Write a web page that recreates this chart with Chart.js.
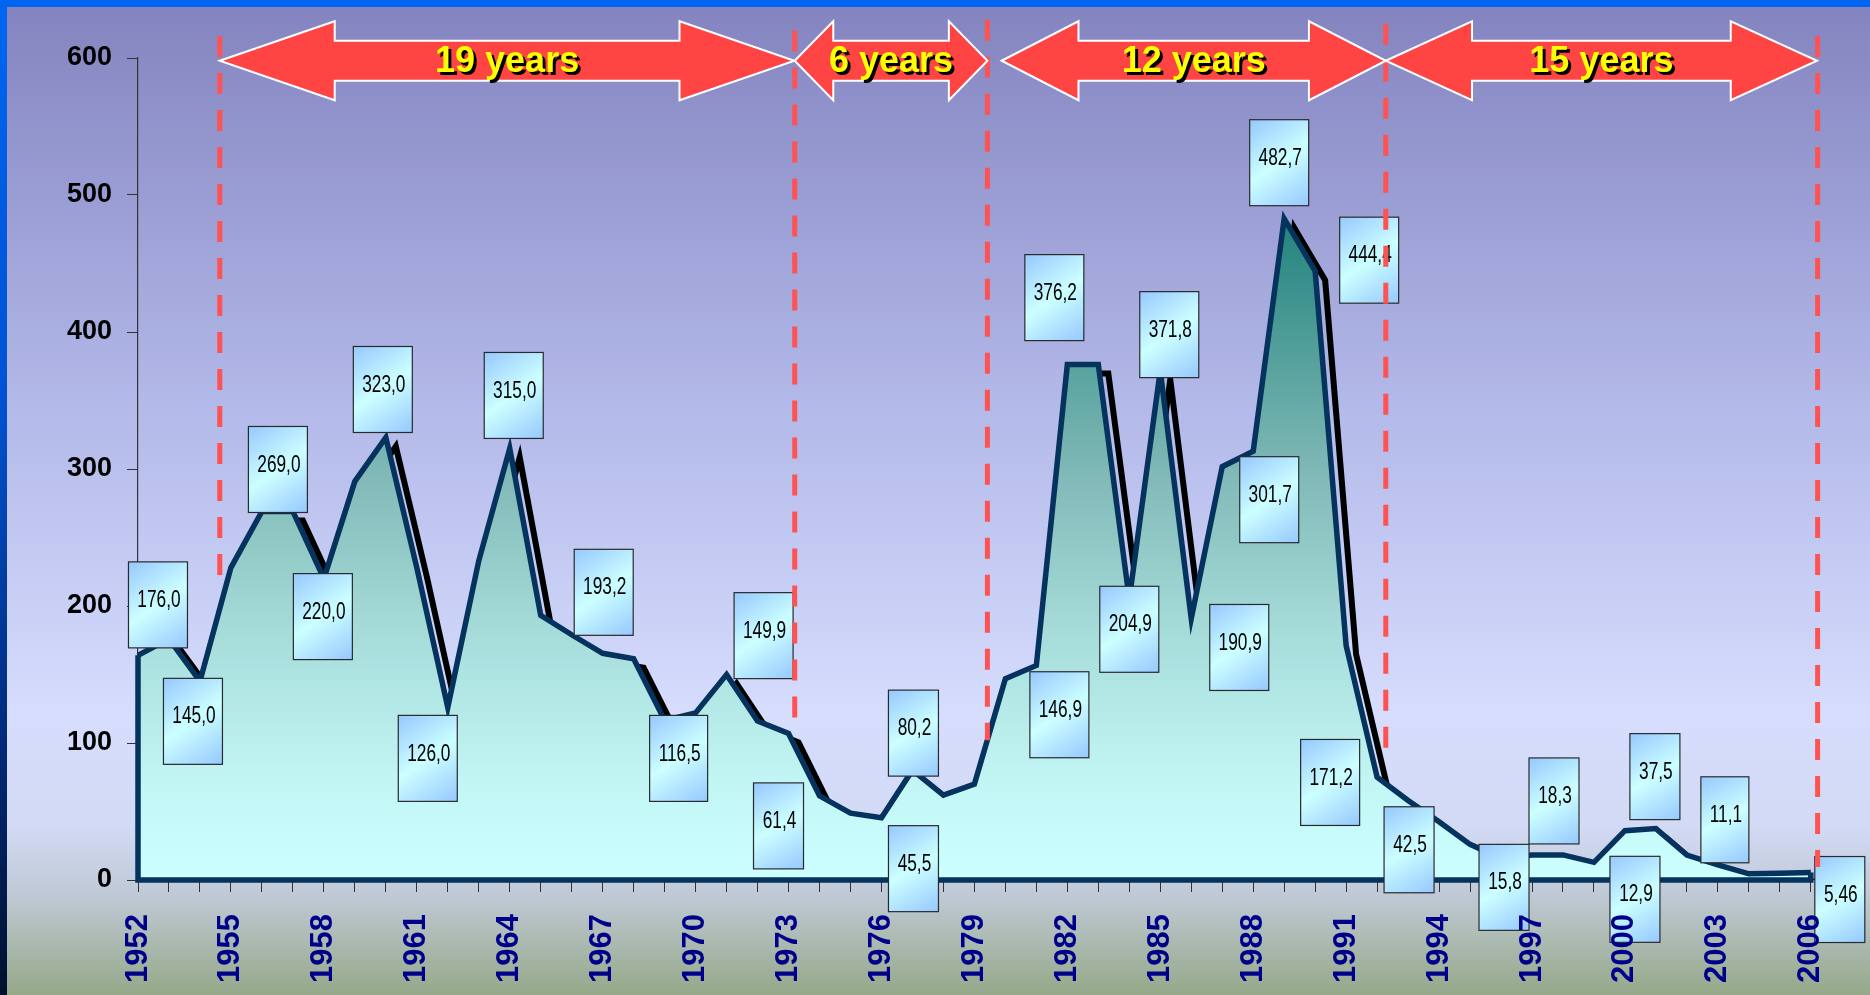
<!DOCTYPE html>
<html>
<head>
<meta charset="utf-8">
<title>1952-2006</title>
<script src="https://cdn.jsdelivr.net/npm/chart.js@4.4.1/dist/chart.umd.min.js"></script>
<style>
  html, body { margin: 0; padding: 0; overflow: hidden; background: #8686c2; }
  #wrap { position: relative; width: 1870px; height: 995px; }
</style>
</head>
<body>
<div id="wrap"><canvas id="cycleChart"></canvas></div>
<script>
const years = [
  "1952", "1953", "1954", "1955", "1956", "1957", "1958", "1959", "1960", "1961",
  "1962", "1963", "1964", "1965", "1966", "1967", "1968", "1969", "1970", "1971",
  "1972", "1973", "1974", "1975", "1976", "1977", "1978", "1979", "1980", "1981",
  "1982", "1983", "1984", "1985", "1986", "1987", "1988", "1989", "1990", "1991",
  "1992", "1993", "1994", "1995", "1996", "1997", "1998", "1999", "2000", "2001",
  "2002", "2003", "2004", "2005", "2006"
];
const values = [
  164, 176.0, 145.0, 228, 269.0, 269, 220.0, 291, 323.0, 228,
  126.0, 233, 315.0, 193.2, 179, 165.5, 161.5, 116.5, 122, 149.9,
  116, 107, 61.4, 48.8, 45.5, 80.2, 62, 70, 146.9, 156.6,
  376.2, 376.2, 204.9, 371.8, 190.9, 301.7, 313, 482.7, 444.4, 171.2,
  75, 58, 42.5, 26, 15.8, 18.3, 18.3, 12.9, 36, 37.5,
  18.2, 11.1, 4.5, 5, 5.46
];

// years that carry a value box, and how far each box sits from its point (px)
const labelYears = [
  "1953", "1954", "1956", "1958", "1960", "1962", "1964", "1965", "1969", "1971",
  "1974", "1976", "1977", "1980", "1982", "1984", "1985", "1986", "1987", "1989",
  "1990", "1991", "1994", "1996", "1997", "1999", "2001", "2003", "2006"
];
const labelNudge = [
  [-11, -34], [-7, 40], [16, -42], [-1, 38], [-3, -48], [-20, 51], [4, -53], [63, -23], [14, 38], [37, -39],
  [-41, 30], [32, 51], [1, -37], [54, 36], [-13, -67], [0, 30], [9, -36], [48, 29], [47, 33], [-5, -56],
  [54, -11], [-16, 137], [-30, 28], [3, 29], [22, -54], [41, 37], [-1, -52], [7, -45], [29, 27]
];

// dashed cycle boundaries (year position, top and bottom value)
const dividerAt = [1954.64, 1973.2, 1979.42, 1992.28, 2006.22];
const dividerTop = [616, 620, 628, 625, 616];
const dividerBottom = [219, 113, 102, 90, 9.5];

// double arrows between the boundaries
const spanFrom = [1954.64, 1973.2, 1979.88, 1992.28];
const spanTo = [1973.19, 1979.42, 1992.28, 2006.2];
const spanText = ["19 years", "6 years", "12 years", "15 years"];

const FONT = '"Liberation Sans", Arial, Helvetica, sans-serif';
Chart.defaults.font.family = FONT;

function yearPos(chart, year) {
  return chart.scales.x.getPixelForValue(year - 1952);
}

function fmt(v) {
  const tenth = Math.abs(v * 10 - Math.round(v * 10)) < 1e-6;
  return (tenth ? v.toFixed(1) : v.toFixed(2)).replace(".", ",");
}

const backdrop = {
  id: "backdrop",
  beforeDraw(chart) {
    const { ctx, width, height } = chart;
    ctx.save();
    const g = ctx.createLinearGradient(0, 0, 0, height);
    g.addColorStop(0, "#8383bf");
    g.addColorStop(0.4, "#b2b8e8");
    g.addColorStop(0.72, "#d6ddfd");
    g.addColorStop(0.83, "#d3daf5");
    g.addColorStop(0.9, "#bfc9d5");
    g.addColorStop(1, "#95a888");
    ctx.fillStyle = g;
    ctx.fillRect(0, 0, width, height);

    const side = ctx.createLinearGradient(0, 0, 0, height);
    side.addColorStop(0, "#0066f0");
    side.addColorStop(0.4, "#0052d2");
    side.addColorStop(0.75, "#002a78");
    side.addColorStop(1, "#00102e");
    ctx.fillStyle = side;
    ctx.fillRect(0, 0, 7, height);
    ctx.fillStyle = "#0066f0";
    ctx.fillRect(0, 0, width, 7);
    ctx.restore();
  },
};

// black drop shadow under the line, only shows where the curve falls
const lineShadow = {
  id: "lineShadow",
  beforeDatasetsDraw(chart) {
    const { ctx, chartArea } = chart;
    const pts = chart.getDatasetMeta(0).data;
    ctx.save();
    ctx.beginPath();
    ctx.rect(chartArea.left, 0, chart.width, chartArea.bottom);
    ctx.clip();
    ctx.beginPath();
    pts.forEach((p, i) => {
      if (i === 0) ctx.moveTo(p.x + 10, p.y + 9);
      else ctx.lineTo(p.x + 10, p.y + 9);
    });
    ctx.strokeStyle = "#000";
    ctx.lineWidth = 6;
    ctx.lineJoin = "miter";
    ctx.stroke();
    ctx.restore();
  },
};

function drawBox(ctx, cx, cy, text) {
  ctx.font = "24px " + FONT;
  const sx = 0.72;
  const tw = ctx.measureText(text).width * sx;
  const w = Math.round(tw + 16);
  const h = 86;
  const left = cx - w / 2;
  const top = cy - h / 2;
  const g = ctx.createLinearGradient(left, top, left + w, top + h);
  g.addColorStop(0, "#96c8ff");
  g.addColorStop(0.5, "#ccffff");
  g.addColorStop(1, "#96c8ff");
  ctx.fillStyle = g;
  ctx.fillRect(left, top, w, h);
  ctx.lineWidth = 1.2;
  ctx.strokeStyle = "#2a2a2a";
  ctx.strokeRect(left, top, w, h);
  ctx.save();
  ctx.translate(cx + 1, top + 38.5);
  ctx.scale(sx, 1);
  ctx.fillStyle = "#000";
  ctx.textAlign = "center";
  ctx.textBaseline = "middle";
  ctx.fillText(text, 0, 0);
  ctx.restore();
}

function drawSpanArrow(ctx, x1, x2, yc, text) {
  const len = x2 - x1;
  const head = len * 0.2;
  const hh = 39.5;
  const bh = 20;
  ctx.beginPath();
  ctx.moveTo(x1, yc);
  ctx.lineTo(x1 + head, yc - hh);
  ctx.lineTo(x1 + head, yc - bh);
  ctx.lineTo(x2 - head, yc - bh);
  ctx.lineTo(x2 - head, yc - hh);
  ctx.lineTo(x2, yc);
  ctx.lineTo(x2 - head, yc + hh);
  ctx.lineTo(x2 - head, yc + bh);
  ctx.lineTo(x1 + head, yc + bh);
  ctx.lineTo(x1 + head, yc + hh);
  ctx.closePath();
  ctx.fillStyle = "#ff4444";
  ctx.fill();
  ctx.strokeStyle = "#ffffff";
  ctx.lineWidth = 2;
  ctx.lineJoin = "miter";
  ctx.stroke();

  const xc = (x1 + x2) / 2;
  ctx.font = "bold 36px " + FONT;
  ctx.textAlign = "center";
  ctx.textBaseline = "middle";
  ctx.fillStyle = "#000";
  ctx.fillText(text, xc + 3, yc + 4.5);
  ctx.fillStyle = "#ffff00";
  ctx.fillText(text, xc, yc + 1.5);
}

const overlays = {
  id: "overlays",
  afterDatasetsDraw(chart) {
    const { ctx, scales } = chart;
    const pts = chart.getDatasetMeta(0).data;
    const base = scales.y.getPixelForValue(0);
    const first = pts[0];
    const last = pts[pts.length - 1];

    ctx.save();
    // close the area: left edge and baseline
    ctx.beginPath();
    ctx.moveTo(first.x, first.y);
    ctx.lineTo(first.x, base);
    ctx.lineTo(last.x, base);
    ctx.lineTo(last.x, last.y);
    ctx.strokeStyle = "#06325e";
    ctx.lineWidth = 5.5;
    ctx.lineJoin = "miter";
    ctx.stroke();

    // value boxes
    labelYears.forEach((yr, k) => {
      const i = years.indexOf(yr);
      const p = pts[i];
      drawBox(ctx, p.x + labelNudge[k][0], p.y + labelNudge[k][1], fmt(values[i]));
    });

    // dashed boundaries
    ctx.setLineDash([21, 16]);
    ctx.strokeStyle = "#ff5252";
    ctx.lineWidth = 5;
    dividerAt.forEach((yr, k) => {
      const x = yearPos(chart, yr);
      ctx.beginPath();
      ctx.moveTo(x, scales.y.getPixelForValue(dividerTop[k]));
      ctx.lineTo(x, scales.y.getPixelForValue(dividerBottom[k]));
      ctx.stroke();
    });
    ctx.setLineDash([]);

    // span arrows
    const yc = scales.y.getPixelForValue(598);
    spanText.forEach((t, k) => {
      drawSpanArrow(ctx, yearPos(chart, spanFrom[k]), yearPos(chart, spanTo[k]), yc, t);
    });
    ctx.restore();
  },
};

const ctx = document.getElementById("cycleChart");
new Chart(ctx, {
  type: "line",
  data: {
    labels: years,
    datasets: [
      {
        data: values,
        borderColor: "#06325e",
        borderWidth: 5.5,
        borderJoinStyle: "miter",
        pointRadius: 0,
        tension: 0,
        fill: "origin",
        backgroundColor: (c) => {
          const { chart } = c;
          const { chartArea } = chart;
          if (!chartArea) return "#9ad";
          const yTop = chart.scales.y.getPixelForValue(Math.max(...values));
          const g = chart.ctx.createLinearGradient(0, yTop, 0, chartArea.bottom);
          g.addColorStop(0, "#22837d");
          g.addColorStop(0.38, "#7fb8b6");
          g.addColorStop(0.6, "#a2d9d7");
          g.addColorStop(0.85, "#c2f6f5");
          g.addColorStop(1, "#ccffff");
          return g;
        },
      },
    ],
  },
  options: {
    responsive: true,
    maintainAspectRatio: false,
    animation: false,
    layout: { padding: { left: 0, top: 58, right: 56.5, bottom: 0 } },
    plugins: {
      legend: { display: false },
      tooltip: { enabled: false },
    },
    scales: {
      x: {
        offset: false,
        afterFit: (s) => { s.height = 115; },
        border: { display: true, color: "#333", width: 1 },
        grid: {
          display: true,
          drawOnChartArea: false,
          drawTicks: true,
          tickLength: 12,
          color: "#333",
          lineWidth: 1,
        },
        ticks: {
          z: 1,
          autoSkip: false,
          minRotation: 90,
          maxRotation: 90,
          padding: 22,
          color: "#00008b",
          font: { size: 31, weight: "bold" },
          callback: (v, i) => (i % 3 === 0 ? years[i] : ""),
        },
      },
      y: {
        min: 0,
        max: 600,
        afterFit: (s) => { s.width = 138; },
        border: { display: true, color: "#333", width: 1.2 },
        grid: {
          display: true,
          drawOnChartArea: false,
          drawTicks: true,
          tickLength: 11,
          color: "#333",
        },
        ticks: {
          stepSize: 100,
          padding: 15,
          color: "#000",
          font: { size: 27, weight: "bold" },
        },
      },
    },
  },
  plugins: [backdrop, lineShadow, overlays],
});
</script>
</body>
</html>
